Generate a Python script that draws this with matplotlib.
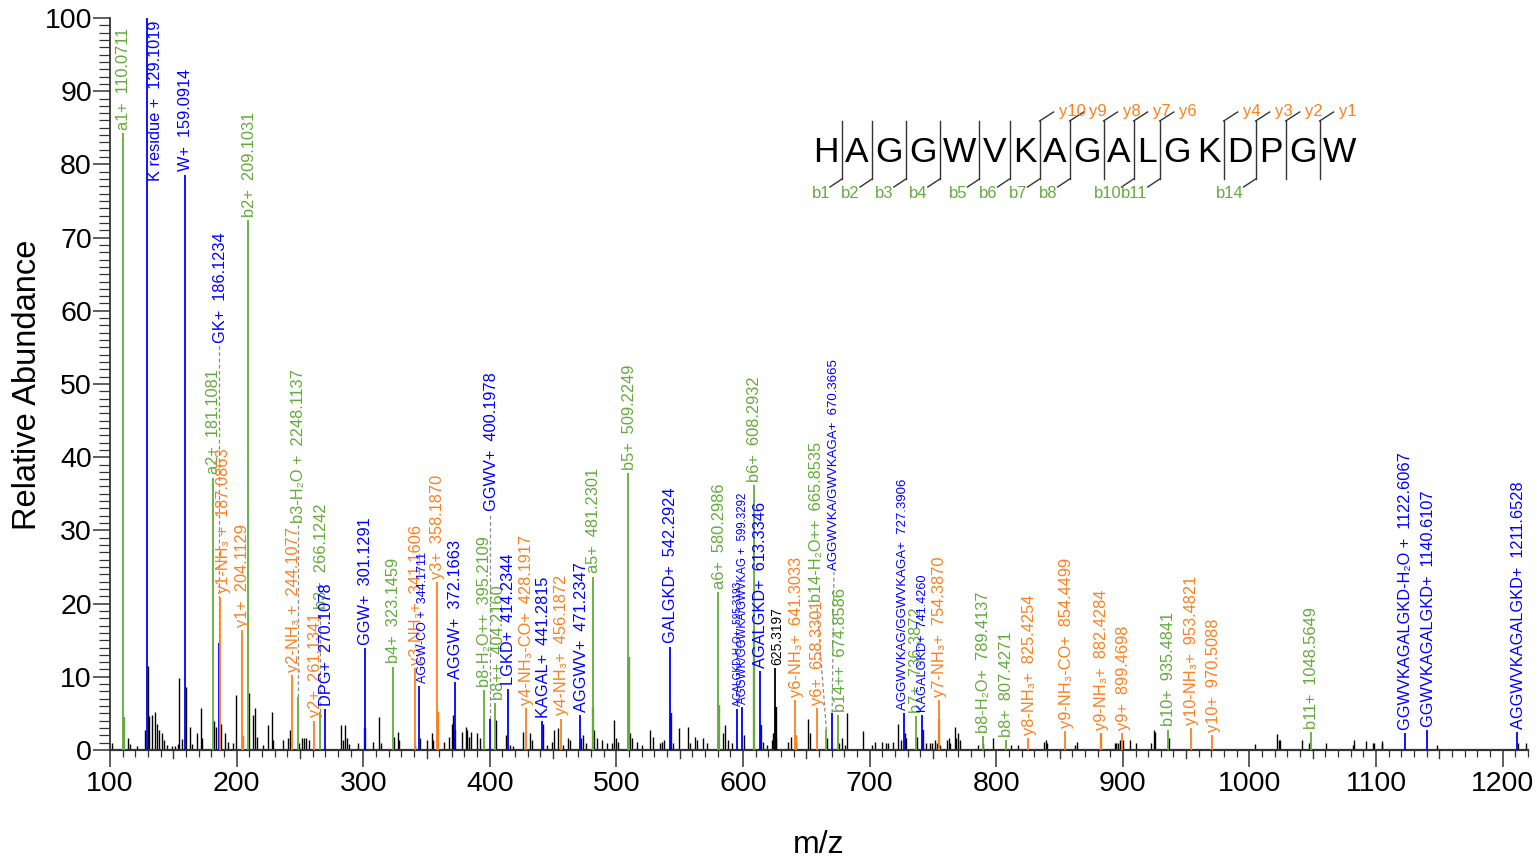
import matplotlib
matplotlib.use('Agg')
import matplotlib.pyplot as plt
from matplotlib.ticker import FixedLocator

plt.rcParams['font.family'] = ['Liberation Sans', 'DejaVu Sans']

GREEN = '#64aa3c'
ORANGE = '#ff7f1e'
BLUE = '#0000ff'
BLACK = '#000000'
COLORS = {'b': GREEN, 'y': ORANGE, 'i': BLUE, 'u': BLACK}

# ---------------- annotated peaks ----------------
ann_mz = [110.0711, 129.1019, 159.0914, 181.1081, 186.1234, 187.0863, 204.1129, 209.1031,
          244.1077, 248.1137, 261.1341, 266.1242, 270.1078, 301.1291, 323.1459, 341.1606,
          344.1711, 358.1870, 372.1663, 395.2109, 400.1978, 404.2160, 414.2344, 428.1917,
          441.2815, 456.1872, 471.2347, 481.2301, 509.2249, 542.2924, 580.2986, 595.3193,
          599.3292, 608.2932, 613.3346, 625.3197, 641.3033, 658.3301, 665.8535, 670.3665,
          674.8586, 727.3906, 736.3872, 741.4260, 754.3870, 789.4137, 807.4271, 825.4254,
          854.4499, 882.4284, 899.4698, 935.4841, 953.4821, 970.5088, 1048.5649, 1122.6067,
          1140.6107, 1211.6528]
ann_int = [84.3, 100.0, 78.6, 37.2, 14.6, 20.8, 16.4, 72.4,
           10.2, 7.3, 4.0, 5.2, 5.6, 13.9, 11.4, 11.2,
           8.7, 22.9, 9.3, 8.2, 4.3, 6.4, 8.4, 5.7,
           3.9, 4.3, 4.8, 23.7, 37.8, 14.1, 21.6, 5.6,
           5.9, 36.2, 10.8, 11.2, 6.8, 5.7, 2.7, 5.1,
           4.8, 5.0, 4.6, 4.8, 6.8, 1.9, 1.3, 1.6,
           2.6, 2.3, 2.3, 2.8, 3.0, 2.0, 2.4, 2.3,
           2.7, 2.4]
ann_series = ['b', 'i', 'i', 'b', 'i', 'y', 'y', 'b',
              'y', 'b', 'y', 'b', 'i', 'i', 'b', 'y',
              'i', 'y', 'i', 'b', 'i', 'b', 'i', 'y',
              'i', 'y', 'i', 'b', 'b', 'i', 'b', 'i',
              'i', 'b', 'i', 'u', 'y', 'y', 'b', 'i',
              'b', 'i', 'b', 'i', 'y', 'b', 'b', 'y',
              'y', 'y', 'y', 'b', 'y', 'y', 'b', 'i',
              'i', 'i']
ann_name = ['a1+', 'K residue +', 'W+', 'a2+', 'GK+', 'y1-NH\u2083 +', 'y1+', 'b2+',
            'y2-NH\u2083 +', 'b3-H\u2082O +', 'y2+', 'b3+', 'DPG+', 'GGW+', 'b4+', 'y3-NH\u2083+',
            'AGGW-CO +', 'y3+', 'AGGW+', 'b8-H\u2082O++', 'GGWV+', 'b8++', 'LGKD+', 'y4-NH\u2083-CO+',
            'KAGAL+', 'y4-NH\u2083+', 'AGGWV+', 'a5+', 'b5+', 'GALGKD+', 'a6+', 'AGALGKD-H\u2082O+',
            'AGGWK/GGWKA/GWVKAG +', 'b6+', 'AGALGKD+', '', 'y6-NH\u2083+', 'y6+', 'b14-H\u2082O++', 'AGGWVKA/GWVKAGA+',
            'b14++', 'AGGWVKAG/GGWVKAGA+', 'b7+', 'KAGALGKD+', 'y7-NH\u2083+', 'b8-H\u2082O+', 'b8+', 'y8-NH\u2083+',
            'y9-NH\u2083-CO+', 'y9-NH\u2083+', 'y9+', 'b10+', 'y10-NH\u2083+', 'y10+', 'b11+', 'GGWVKAGALGKD-H\u2082O +',
            'GGWVKAGALGKD+', 'AGGWVKAGALGKD+']
ann_mztext = ['110.0711', '129.1019', '159.0914', '181.1081', '186.1234', '187.0863', '204.1129', '209.1031',
              '244.1077', '2248.1137', '261.1341', '266.1242', '270.1078', '301.1291', '323.1459', '341.1606',
              '344.1711', '358.1870', '372.1663', '395.2109', '400.1978', '404.2160', '414.2344', '428.1917',
              '441.2815', '456.1872', '471.2347', '481.2301', '509.2249', '542.2924', '580.2986', '595.3193',
              '599.3292', '608.2932', '613.3346', '625.3197', '641.3033', '658.3301', '665.8535', '670.3665',
              '674.8586', '727.3906', '736.3872', '741.4260', '754.3870', '789.4137', '807.4271', '825.4254',
              '854.4499', '882.4284', '899.4698', '935.4841', '953.4821', '970.5088', '1048.5649', '1122.6067',
              '1140.6107', '1211.6528']
# lower, adjacent part of each annotated peak (0 = none)
ann_shoulder = [4.5, 0, 0, 0, 0, 0, 1.9, 0,
                0, 0, 0, 0, 0, 3.0, 0, 0,
                0, 5.2, 2.7, 0, 0, 0, 0, 0,
                0, 0, 0, 5.9, 12.7, 5.0, 6.1, 0,
                0, 16.4, 3.4, 5.9, 2.0, 0, 0, 0,
                0, 0, 0, 2.8, 4.3, 0, 0, 0,
                0, 2.3, 0, 0, 0, 0, 0, 0,
                0, 0]

# ---------------- unannotated peaks ----------------
noise_mz = [101.3, 114.4, 115.8, 121.0, 127.3, 130.1, 131.1, 133.0, 135.5, 137.4, 139.0, 140.8,
            142.6, 144.8, 148.7, 151.3, 154.0, 154.7, 156.6, 160.0, 163.2, 164.5, 169.0, 171.6,
            172.4, 182.1, 183.7, 188.0, 190.8, 193.4, 196.9, 199.5, 209.8, 212.6, 214.5, 215.8,
            220.5, 225.0, 227.7, 228.5, 236.3, 240.8, 242.0, 249.5, 251.3, 253.0, 254.6, 257.3,
            282.2, 283.9, 285.6, 287.0, 289.0, 296.0, 307.4, 312.7, 313.7, 324.0,
            327.2, 328.4, 340.7, 344.9, 350.7, 354.4, 355.4, 363.8, 368.0, 369.9, 371.2, 378.3,
            380.9, 382.2, 383.5, 384.9, 390.1, 392.2, 404.9, 412.7, 415.8, 418.5, 426.4, 431.7,
            433.0, 441.9, 445.3, 449.3, 450.9, 453.5, 458.0, 461.9, 463.2, 471.9, 473.8, 475.9,
            482.5, 484.3, 488.3, 492.2, 496.2, 498.0, 499.3, 501.4, 510.6, 512.0, 515.9, 519.9,
            526.4, 528.5, 534.3, 535.9, 537.5, 544.8, 549.6, 556.7, 558.0, 561.9, 563.3, 568.5,
            571.2, 583.8, 585.6, 588.3, 590.9, 600.9, 615.9, 619.1, 622.5, 623.8, 626.4, 635.9,
            637.8, 642.2, 651.4, 652.7, 666.7, 675.9, 678.5, 680.4, 682.2, 694.8, 702.2, 704.1,
            710.1, 712.8, 714.6, 718.6, 722.5, 724.4, 728.2, 729.1, 737.2, 744.9, 747.5, 749.6,
            751.5, 753.3, 755.4, 761.2, 762.3, 763.3, 767.3, 768.6, 769.9, 771.2, 785.7, 789.9,
            797.5, 811.5, 817.3, 837.6, 838.9, 839.7, 862.0, 863.9, 893.6, 894.9, 896.2, 897.5,
            900.1, 905.9, 910.7, 922.6, 924.4, 925.7, 936.5, 1004.2, 1022.0, 1023.2, 1024.5, 1041.8,
            1046.8, 1060.7, 1081.5, 1082.6, 1092.3, 1097.5, 1098.3, 1104.3, 1105.0, 1148.0, 1212.1, 1218.1]
noise_int = [0.9, 1.6, 0.8, 0.6, 2.8, 11.5, 4.6, 4.8, 5.2, 3.6, 2.7, 2.3,
             1.4, 0.7, 0.6, 0.5, 0.8, 9.9, 1.5, 8.6, 3.2, 0.8, 2.3, 5.7,
             1.6, 3.9, 3.2, 3.6, 2.3, 1.1, 0.9, 7.5, 7.8, 4.8, 5.7, 1.8,
             0.7, 3.4, 5.2, 1.4, 1.4, 1.6, 2.7, 1.0, 1.7, 1.7, 1.7, 1.4,
             3.4, 1.4, 3.4, 1.6, 0.8, 1.0, 1.1, 4.5, 1.0, 1.8,
             2.5, 1.4, 0.7, 1.6, 1.4, 2.3, 1.4, 1.1, 1.8, 3.6, 4.8, 2.5,
             3.2, 2.7, 1.8, 2.5, 2.3, 1.6, 4.1, 2.0, 0.7, 0.5, 2.5, 2.3,
             1.4, 3.6, 0.7, 1.1, 2.7, 3.0, 0.7, 1.6, 1.4, 1.6, 2.0, 0.9,
             2.7, 1.6, 1.4, 0.9, 0.9, 4.1, 1.6, 1.1, 2.3, 1.6, 1.1, 0.7,
             2.7, 1.8, 0.9, 1.1, 1.4, 0.9, 3.0, 3.2, 0.9, 1.8, 1.4, 1.6,
             0.9, 2.3, 3.4, 1.4, 0.9, 2.0, 1.1, 0.7, 1.4, 2.3, 1.8, 1.1,
             1.8, 0.9, 4.3, 2.3, 1.6, 0.9, 1.6, 0.7, 5.0, 2.6, 0.7, 1.1,
             1.1, 0.9, 0.9, 1.1, 3.5, 1.3, 2.3, 1.6, 1.8, 0.9, 0.9, 1.0,
             1.4, 0.9, 0.7, 1.4, 1.6, 0.9, 3.2, 1.7, 2.3, 1.4, 0.7, 1.0,
             1.6, 0.7, 0.7, 1.1, 1.4, 1.0, 0.7, 1.1, 1.0, 1.0, 1.0, 1.3,
             1.4, 1.4, 1.0, 0.9, 2.8, 2.5, 1.7, 0.8, 2.2, 1.4, 1.3, 1.4,
             0.9, 0.9, 0.7, 1.4, 1.2, 1.0, 1.0, 1.0, 1.2, 0.7, 0.9, 0.9]

# ---------------- peptide sequence / fragment coverage ----------------
sequence = "HAGGWVKAGALGKDPGW"
b_ions = [1, 2, 3, 4, 5, 6, 7, 8, 10, 11, 14]
y_ions = [1, 2, 3, 4, 6, 7, 8, 9, 10]

x_ticks = [100, 200, 300, 400, 500, 600, 700, 800, 900, 1000, 1100, 1200]
y_ticks = [0, 10, 20, 30, 40, 50, 60, 70, 80, 90, 100]

# ---------------- label layout overrides (index -> options) ----------------
LAYOUT = {
    1: dict(x=135.8, top=99.7),
    4: dict(bottom=55.6, leader=True, dx=1.5),
    5: dict(bottom=21.4, dx=2.5),
    9: dict(bottom=31.0, leader=True),
    11: dict(bottom=19.2, leader=True),
    16: dict(size=9.0, dx=3.0),
    20: dict(bottom=32.6, leader=True),
    21: dict(dx=2.5),
    31: dict(size=7.2),
    32: dict(size=8.3),
    35: dict(size=10.0, dx=1.8),
    38: dict(x=658.3, bottom=20.2, leader=True),
    39: dict(x=671.8, bottom=24.6, leader=True, size=9.5),
    40: dict(dx=1.8),
    41: dict(size=9.5, dx=-1.0),
    43: dict(size=9.2, dx=1.0),
}

W, H = 1537, 863
fig = plt.figure(figsize=(W / 100, H / 100), dpi=100)
ax = fig.add_axes([110 / W, 113 / H, 1418 / W, 732 / H])
ax.set_xlim(100, 1220)
ax.set_ylim(0, 100)

# unannotated peaks
ax.vlines(noise_mz, 0, noise_int, color=BLACK, lw=1.0, zorder=2)

# annotated peaks + labels
for i, (mz, h, s, name, mt, sh) in enumerate(zip(ann_mz, ann_int, ann_series, ann_name,
                                                  ann_mztext, ann_shoulder)):
    c = COLORS[s]
    ax.vlines(mz, 0, h, color=c, lw=1.3, zorder=3)
    if sh > 0:
        ax.vlines(mz + 0.6, 0, sh, color=c, lw=1.7, zorder=3)
    lay = LAYOUT.get(i, {})
    lx = lay.get('x', mz + lay.get('dx', 0.8))
    fs = lay.get('size', 11.8)
    txt = f"{name}  {mt}" if name else mt
    if 'top' in lay:
        ax.text(lx, lay['top'], txt, rotation=90, ha='center', va='top', color=c, fontsize=fs)
        continue
    lb = lay.get('bottom', h + 0.45)
    ax.text(lx, lb, txt, rotation=90, ha='center', va='bottom', color=c, fontsize=fs, zorder=4)
    if lay.get('leader'):
        ax.plot([mz, lx - (lay.get('dx', 0.8) if 'x' not in lay else 0)], [h, lb - 0.3],
                color='#8c8c8c', lw=0.9, ls=(0, (3, 2)), zorder=2)

# axes styling
for sp in ['top', 'right']:
    ax.spines[sp].set_visible(False)
ax.spines['left'].set_color('#333333')
ax.spines['bottom'].set_color('#333333')
ax.spines['left'].set_linewidth(1.3)
ax.spines['bottom'].set_linewidth(1.6)

ax.xaxis.set_major_locator(FixedLocator(x_ticks))
ax.xaxis.set_minor_locator(FixedLocator([v for v in range(100, 1221, 10) if v % 50 != 0]))
ax.yaxis.set_major_locator(FixedLocator(y_ticks))
ax.yaxis.set_minor_locator(FixedLocator([v for v in range(0, 101) if v % 10 != 0]))
ax.tick_params(axis='x', which='major', length=12, width=1.1, color='#333333',
               labelsize=20.5, pad=3)
ax.tick_params(axis='x', which='minor', length=5, width=0.9, color='#333333')
ax.tick_params(axis='y', which='major', length=12, width=1.1, color='#333333',
               labelsize=20.5, pad=1)
ax.tick_params(axis='y', which='minor', length=8, width=0.9, color='#333333')
xtr = ax.get_xaxis_transform()
for v in range(150, 1220, 100):
    ax.plot([v, v], [0, -8 / 732], transform=xtr, color='#333333', lw=1.0, clip_on=False)

fig.text(28 / W, 1 - 385 / H, 'Relative Abundance', rotation=90, ha='center', va='center',
         fontsize=23.5)
fig.text(819 / W, 1 - 845 / H, 'm/z', ha='center', va='center', fontsize=23)

# ---------------- sequence coverage diagram (pixel overlay) ----------------
ov = fig.add_axes([0, 0, 1, 1])
ov.set_xlim(0, W)
ov.set_ylim(H, 0)
ov.axis('off')
ov.patch.set_alpha(0)

ADV = {'H': .722, 'A': .667, 'G': .778, 'W': .944, 'V': .667, 'K': .667, 'L': .556,
       'D': .722, 'P': .667}
EM = 34.7
GAP = 6.9
centers = [826.0]
for a, b in zip(sequence[:-1], sequence[1:]):
    centers.append(centers[-1] + (ADV[a] + ADV[b]) / 2 * EM + GAP)
for ch, cx in zip(sequence, centers):
    ov.text(cx, 162, ch, ha='center', va='baseline', fontsize=25.5, color='black')

n = len(sequence)
for k in range(1, n):
    has_b = k in b_ions
    has_y = (n - k) in y_ions
    if not (has_b or has_y):
        continue
    sx = centers[k - 1] + ADV[sequence[k - 1]] / 2 * EM + GAP / 2
    ov.plot([sx, sx], [121, 179], color='#333333', lw=1.0)
    if has_b:
        ov.plot([sx, sx - 12], [179, 187], color='#333333', lw=1.0)
        ov.text(sx - 12, 198, f'b{k}', ha='right', va='baseline', color=GREEN, fontsize=12)
    if has_y:
        ov.plot([sx, sx + 14], [121, 112], color='#333333', lw=1.0)
        ov.text(sx + 19, 116, f'y{n - k}', ha='left', va='baseline', color=ORANGE, fontsize=12)

fig.savefig('out.png', dpi=100)
